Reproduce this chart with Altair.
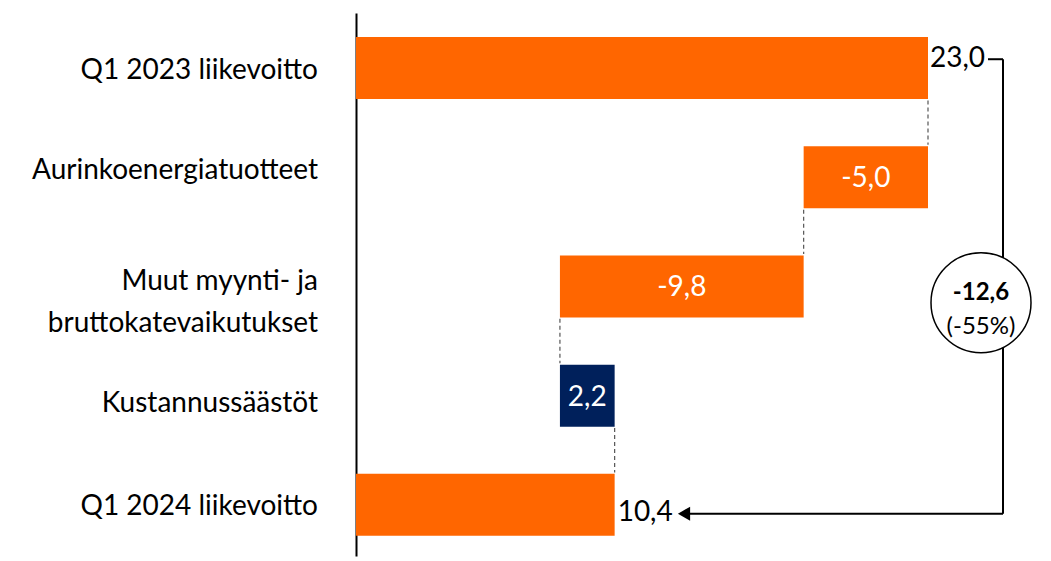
import altair as alt
import pandas as pd

# ---- data ----
categories = [
    "Q1 2023 liikevoitto",
    "Aurinkoenergiatuotteet",
    "Muut myynti- ja|bruttokatevaikutukset",
    "Kustannussäästöt",
    "Q1 2024 liikevoitto",
]
values = [23.0, -5.0, -9.8, 2.2, 10.4]
kinds = ["total", "delta", "delta", "delta", "total"]
change_labels = ["-12,6", "(-55%)"]

# ---- styling / layout constants ----
ORANGE = "#FF6600"
NAVY = "#00205B"
FONT = "Lato"
PX_PER_UNIT = 572 / 23.0          # pixels per unit on the x axis
ROW_PX = 111.25                   # pixels between row centres
VIEW_TOP = 13                     # page y of the plot area's top
ROW0_Y = 64                       # page y of the first row centre
VIEW_W = 680
VIEW_H = 543
X_MAX = VIEW_W / PX_PER_UNIT
Y_MIN = -(ROW0_Y - VIEW_TOP) / ROW_PX
Y_MAX = Y_MIN + VIEW_H / ROW_PX
BAR_PX = 62
CONN_GAP = 33 / ROW_PX
LABEL_SHIFT_PX = [3, -6, -5, 9, 2]   # vertical nudge of each category label


def px_x(page_x):
    return (page_x - 356) / PX_PER_UNIT


def px_y(page_y):
    return (page_y - ROW0_Y) / ROW_PX


def fmt(v):
    return f"{v:.1f}".replace(".", ",")


rows = []
running = 0.0
for i, (cat, val, kind) in enumerate(zip(categories, values, kinds)):
    if kind == "total":
        start, end = 0.0, val
    else:
        start, end = running, running + val
    running = end
    tone = "pos" if (kind == "delta" and val > 0) else "neg"
    rows.append(dict(row=float(i), label_row=i + LABEL_SHIFT_PX[i] / ROW_PX, cat=cat,
                     zero=0.0, start=float(start), end=float(end),
                     mid=float((start + end) / 2), kind=kind, tone=tone, label=fmt(val)))
df = pd.DataFrame(rows)

conn = pd.DataFrame([
    dict(x=float(df.loc[i, "end"]), y1=i + CONN_GAP, y2=i + 1 - CONN_GAP)
    for i in range(len(df) - 1)
])

ann = pd.DataFrame([dict(
    ytop=px_y(55), ybot=px_y(518), ycirc=px_y(303), yt1=px_y(293), yt2=px_y(328),
    bx=px_x(1003), tx=px_x(988), ax=px_x(684), alx=px_x(688), cx=px_x(981),
    t1=change_labels[0], t2=change_labels[1])])

yscale = alt.Scale(domain=[Y_MIN, Y_MAX], reverse=True, nice=False, zero=False)
xscale = alt.Scale(domain=[0, X_MAX], nice=False, zero=False)

base = alt.Chart(df)

bars = base.mark_bar(size=BAR_PX).encode(
    y=alt.Y("row:Q", scale=yscale, title=None,
            axis=alt.Axis(labels=False, ticks=False, grid=False, domainColor="black",
                          domainWidth=2, minExtent=343, maxExtent=343)),
    x=alt.X("start:Q", scale=xscale, axis=None),
    x2=alt.X2("end"),
    color=alt.Color("tone:N", scale=alt.Scale(domain=["neg", "pos"], range=[ORANGE, NAVY]), legend=None),
)

cat_labels = base.mark_text(
    font=FONT, fontSize=28, color="black", align="right", baseline="middle",
    dx=-38, lineBreak="|", lineHeight=42,
).encode(y=alt.Y("label_row:Q"), x=alt.X("zero:Q"), text="cat:N")

inside = base.transform_filter("datum.kind == 'delta'").mark_text(
    font=FONT, fontSize=28, color="white", align="center", baseline="middle", dy=2
).encode(y=alt.Y("row:Q"), x=alt.X("mid:Q"), text="label:N")

first_lab = base.transform_filter("datum.row == 0").mark_text(
    font=FONT, fontSize=28, color="black", align="left", baseline="middle", dx=2, dy=-9
).encode(y=alt.Y("row:Q"), x=alt.X("end:Q"), text="label:N")

last_lab = base.transform_filter(f"datum.row == {len(categories) - 1}").mark_text(
    font=FONT, fontSize=28, color="black", align="left", baseline="middle", dx=3, dy=8
).encode(y=alt.Y("row:Q"), x=alt.X("end:Q"), text="label:N")

connectors = alt.Chart(conn).mark_rule(
    strokeDash=[4, 3], color="#555555", strokeWidth=1.2
).encode(y=alt.Y("y1:Q"), y2=alt.Y2("y2"), x=alt.X("x:Q"))

annb = alt.Chart(ann)

vline = annb.mark_rule(color="black", strokeWidth=2).encode(
    x=alt.X("bx:Q"), y=alt.Y("ytop:Q"), y2=alt.Y2("ybot"))
top_line = annb.mark_rule(color="black", strokeWidth=2).encode(
    x=alt.X("tx:Q"), x2=alt.X2("bx"), y=alt.Y("ytop:Q"))
bottom_line = annb.mark_rule(color="black", strokeWidth=2).encode(
    x=alt.X("alx:Q"), x2=alt.X2("bx"), y=alt.Y("ybot:Q"))
arrow = annb.mark_point(shape="triangle-left", filled=True, color="black", size=200,
                        opacity=1).encode(x=alt.X("ax:Q"), y=alt.Y("ybot:Q"))
circle = annb.mark_circle(color="white", stroke="black", strokeWidth=1.5, size=10000,
                          opacity=1).encode(x=alt.X("cx:Q"), y=alt.Y("ycirc:Q"))
ctext1 = annb.mark_text(font=FONT, fontSize=24, fontWeight="bold", color="black",
                        align="center", baseline="middle").encode(
    x=alt.X("cx:Q"), y=alt.Y("yt1:Q"), text="t1:N")
ctext2 = annb.mark_text(font=FONT, fontSize=24, color="black",
                        align="center", baseline="middle").encode(
    x=alt.X("cx:Q"), y=alt.Y("yt2:Q"), text="t2:N")

chart = alt.layer(
    bars, connectors, cat_labels, inside, first_lab, last_lab,
    vline, top_line, bottom_line, arrow, circle, ctext1, ctext2,
).properties(width=VIEW_W, height=VIEW_H).configure_view(strokeWidth=0)

chart.save("out.html", embed_options={"renderer": "svg", "actions": False})
